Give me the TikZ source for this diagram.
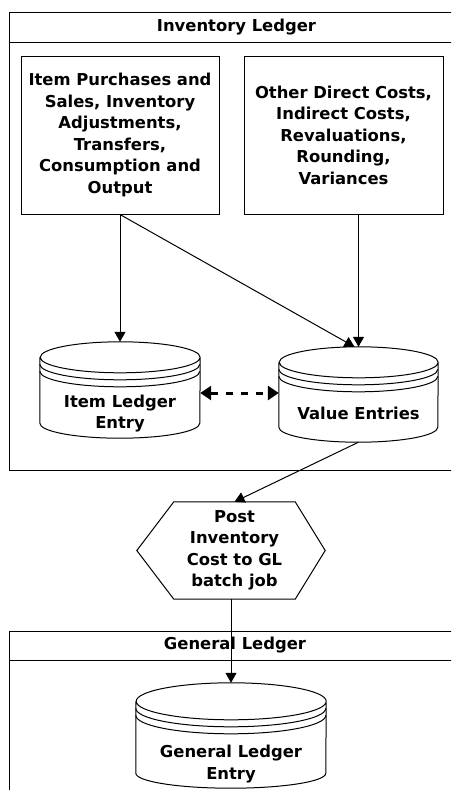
\documentclass[tikz,border=0pt]{standalone}
\usepackage{fontspec}
\setmainfont{DejaVu Sans}
\usetikzlibrary{calc,arrows.meta,positioning}

\tikzset{
	lbl/.style={font=\bfseries\fontsize{16.4}{21.5}\selectfont, align=center},
	srcbox/.style={draw, line width=1pt, minimum width=198pt, minimum height=158pt, inner sep=0pt, lbl},
	dbbox/.style={minimum width=#1, minimum height=96pt, inner sep=0pt},
	flow/.style={line width=1pt, -{Triangle[length=10pt,width=11pt]}},
	link/.style={line width=3pt, dash pattern=on 7pt off 8pt,
		{Triangle[length=11pt,width=14pt]}-{Triangle[length=11pt,width=14pt]}},
	frame/.style={line width=1pt}
}

% cylinder round a node: name, x radius, y radius of the top
\newcommand\drawdb[3]{%
	\draw[frame] ([yshift=-#3]#1.north west) -- ([yshift=15pt]#1.south west)
	arc[start angle=180,end angle=360,x radius=#2,y radius=15pt]
	-- ([yshift=-#3]#1.north east)
	arc[start angle=0,end angle=180,x radius=#2,y radius=#3]
	arc[start angle=180,end angle=360,x radius=#2,y radius=#3];
	\foreach \s in {7,14}
	\draw[frame] ([yshift=-#3-\s pt]#1.north west) arc[start angle=180,end angle=360,x radius=#2,y radius=#3];
}

\begin{document}
\begin{tikzpicture}[x=1pt,y=1pt]
	\fill[white] (0,0) rectangle (451,-790);
	\clip (0,0) rectangle (451,-790);
	
	% Inventory Ledger lane
	\node[lbl] (invlane) at (236.5,-27) {Inventory Ledger};
	\draw[frame] (460,-12) -- (9,-12) -- (9,-470) -- (460,-470);
	\draw[frame] (9,-42) -- (460,-42);
	
	\node[srcbox] (items) at (120,-135) {Item Purchases and\\Sales, Inventory\\Adjustments,\\Transfers,\\Consumption and\\Output};
	\node[srcbox, minimum width=199pt] (costs) at (343.5,-135) {Other Direct Costs,\\Indirect Costs,\\Revaluations,\\Rounding,\\Variances};
	
	\node[dbbox=160pt, label={[lbl,name=ile-t,yshift=-23.5pt]center:{Item Ledger\\Entry}}] (ile) at (120,-390) {};
	\drawdb{ile}{80pt}{15.5pt}
	\node[dbbox=159pt, minimum height=95pt, label={[lbl,name=ve-t,yshift=-19pt]center:Value Entries}] (ve) at (358.5,-394.5) {};
	\drawdb{ve}{79.5pt}{15.5pt}
	
	\draw[flow] (items.south) -- (ile.north);
	\draw[flow] (items.south) -- ([xshift=-4pt]ve.north);
	\draw[flow] (ve.north |- costs.south) -- (ve.north);
	\draw[link] ([yshift=-3pt]ile.east) -- ([yshift=-3pt]ile.east -| ve.west);
	
	% batch job
	\node[lbl, minimum width=121pt, minimum height=97pt, inner sep=0pt] (post) at (234.5,-550.5) {Post\\Inventory\\Cost to GL\\batch job};
	\draw[frame] (post.north west) -- (post.north east) -- ([xshift=30pt]post.east)
	-- (post.south east) -- (post.south west) -- ([xshift=-37pt]post.west) -- cycle;
	\draw[flow] (ve.south) -- (post.north);
	
	% General Ledger lane
	\node[lbl] (gllane) at (235,-645.5) {General Ledger};
	\draw[frame] (460,-631) -- (9,-631) -- (9,-800);
	\draw[frame] (9,-660) -- (460,-660);
	
	\node[dbbox=190pt, minimum height=105pt, label={[lbl,name=gle-t,yshift=-28.5pt]center:{General Ledger\\Entry}}] (gle) at (231,-735.5) {};
	\drawdb{gle}{95pt}{18.5pt}
	\draw[flow] (gle.north |- post.south) -- (gle.north);
\end{tikzpicture}
\end{document}
